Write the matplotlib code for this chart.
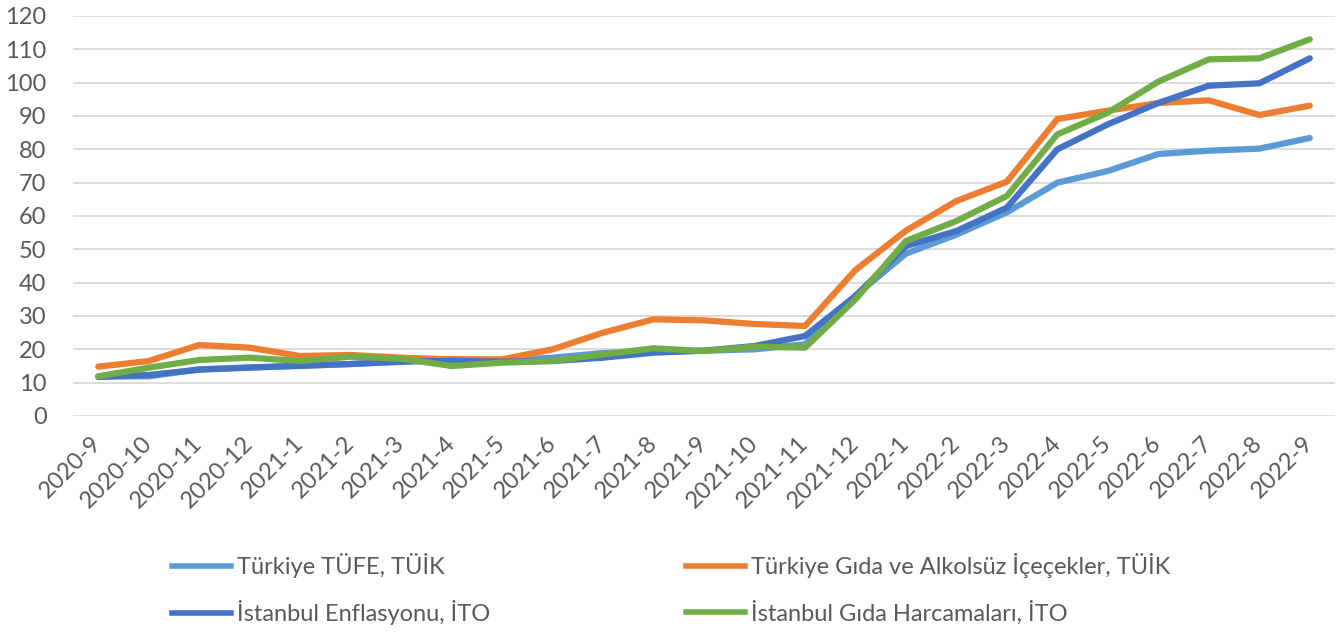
import numpy as np
import matplotlib
matplotlib.use("Agg")
import matplotlib.pyplot as plt
from matplotlib.lines import Line2D

plt.rcParams['font.family'] = ['Lato', 'DejaVu Sans']

months = ['2020-9', '2020-10', '2020-11', '2020-12', '2021-1', '2021-2', '2021-3',
          '2021-4', '2021-5', '2021-6', '2021-7', '2021-8', '2021-9', '2021-10',
          '2021-11', '2021-12', '2022-1', '2022-2', '2022-3', '2022-4', '2022-5',
          '2022-6', '2022-7', '2022-8', '2022-9']

tufe = [11.9, 11.9, 14.0, 14.6, 15.0, 15.6, 16.2, 17.1, 16.6, 17.5, 18.9, 19.3, 19.6,
        20.0, 21.5, 36.1, 48.7, 54.4, 61.1, 70.0, 73.5, 78.6, 79.6, 80.2, 83.4]
gida_tuik = [14.8, 16.5, 21.3, 20.5, 18.0, 18.3, 17.5, 17.0, 17.0, 20.0, 25.0, 29.0, 28.7,
             27.6, 27.0, 43.8, 55.6, 64.5, 70.3, 89.1, 91.6, 93.9, 94.7, 90.3, 93.1]
ist_enf = [11.7, 12.3, 13.9, 14.5, 15.1, 15.6, 16.4, 16.5, 16.3, 16.5, 17.5, 19.0, 19.6,
           21.0, 24.0, 36.0, 51.0, 55.5, 62.5, 80.0, 87.5, 93.9, 99.1, 99.8, 107.3]
ist_gida = [11.9, 14.5, 16.8, 17.5, 16.5, 17.8, 17.2, 15.0, 16.0, 16.5, 18.5, 20.3, 19.5,
            20.8, 20.5, 35.0, 52.5, 58.5, 66.0, 84.5, 91.0, 100.3, 107.0, 107.3, 113.0]

labels = ['Türkiye TÜFE, TÜİK', 'Türkiye Gıda ve Alkolsüz İçeçekler, TÜİK',
          'İstanbul Enflasyonu, İTO', 'İstanbul Gıda Harcamaları, İTO']
colors = ['#5B9BD5', '#ED7D31', '#4472C4', '#70AD47']
series = [tufe, gida_tuik, ist_enf, ist_gida]

W, H = 1337, 637
fig = plt.figure(figsize=(W / 100, H / 100), dpi=100)
ax = fig.add_axes([73 / W, 1 - 416 / H, (1335 - 73) / W, (416 - 16) / H])

x = np.arange(len(months))
for vals, c, lab in zip(series, colors, labels):
    ax.plot(x, vals, color=c, lw=4.5, solid_capstyle='round', solid_joinstyle='round',
            label=lab)

ax.set_xlim(-0.5, len(months) - 0.5)
ax.set_ylim(0, 120)
ax.set_yticks(np.arange(0, 121, 10))
ax.yaxis.grid(True, color='#d9d9d9', lw=1.3)
ax.set_axisbelow(True)
for s in ax.spines.values():
    s.set_visible(False)

fs = 17
ax.set_xticks(x)
ax.set_xticklabels(months, rotation=45, ha='right', va='center', rotation_mode='anchor')
ax.tick_params(axis='x', length=0, pad=17, labelsize=fs, labelcolor='#595959')
ax.tick_params(axis='y', length=0, pad=19, labelsize=fs, labelcolor='#595959')

# legend in two columns, placed manually
def leg_col(items, xpos):
    handles = [Line2D([], [], color=colors[i], lw=4) for i in items]
    fig.legend(handles, [labels[i] for i in items], loc='upper left',
               bbox_to_anchor=(xpos / W, 1 - 553 / H), frameon=False, fontsize=fs,
               labelcolor='#595959', handlelength=2.5, handletextpad=0.25,
               labelspacing=0.95, borderpad=0, borderaxespad=0)

leg_col([0, 2], 172)
leg_col([1, 3], 686)

fig.savefig('out.png', dpi=100)
